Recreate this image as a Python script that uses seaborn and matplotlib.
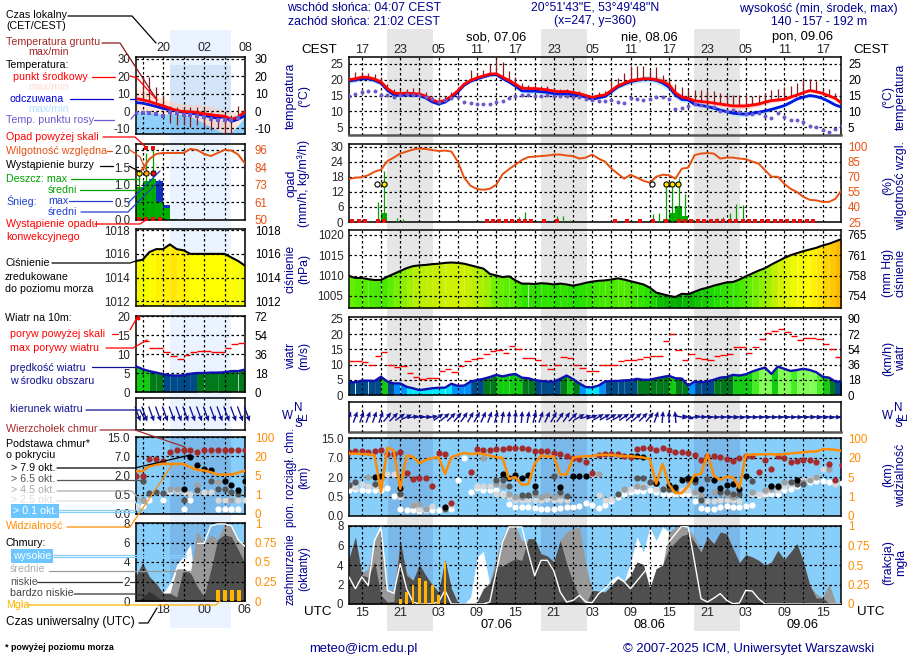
import numpy as np
import matplotlib
matplotlib.use("Agg")
import matplotlib.pyplot as plt
from matplotlib.lines import Line2D
from matplotlib.patches import Rectangle
import seaborn as sns

nan = float("nan")

# ---- main panel data, one value per hour ----
hours = np.arange(78)
top_hours = ["17", "", "23", "", "05", "", "11", "", "17", "", "23", "", "05", "", "11", "", "17", "", "23", "", "05", "", "11", "", "17"]
utc_hours = ["15", "", "21", "", "03", "", "09", "", "15", "", "21", "", "03", "", "09", "", "15", "", "21", "", "03", "", "09", "", "15"]

t_mid = [20.0,20.3,20.8,20.7,20.2,19.3,17.2,15.8,15.6,15.8,15.6,15.5,14.8,13.6,12.9,13.5,14.8,16.5,18.6,19.8,20.6,21.2,21.8,21.9,20.8,19.8,18.6,17.3,17.2,17.2,17.0,16.8,16.4,16.2,16.3,16.0,15.6,15.0,14.4,14.9,
         15.2,16.6,18.1,18.9,19.7,20.0,20.3,20.3,20.0,19.5,18.4,15.8,14.5,14.1,13.3,13.1,12.9,12.6,12.3,12.0,11.7,11.7,11.7,12.0,12.3,12.9,13.4,13.6,13.8,14.5,15.2,15.9,16.6,16.2,15.7,14.9,14.1,12.5]
t_feel = [19.6,19.9,20.4,20.3,19.8,18.9,16.7,15.2,15.0,15.2,15.1,15.0,14.2,13.0,12.3,12.9,14.3,16.1,18.3,19.5,20.3,20.9,21.5,21.6,20.4,19.3,18.0,16.5,16.4,16.4,16.2,16.0,15.6,15.4,15.5,15.3,15.0,14.5,13.8,14.3,
          14.7,16.2,17.7,18.6,19.4,19.8,20.2,20.2,19.8,19.0,17.7,15.2,13.8,13.6,12.2,11.9,11.5,11.0,10.4,9.9,9.4,9.2,9.1,9.4,9.7,10.1,10.6,11.2,11.8,12.8,13.9,14.5,15.0,14.7,14.1,13.1,12.0,11.3]
t_dew = [15,15.4,16,16.5,16.5,15.2,15.1,14.6,15.3,15.4,15.2,15.1,14.6,13.9,13.1,13.6,14.3,14.4,13.0,12.6,12.4,12.3,12.4,12.9,13.4,14.2,15,15.2,15.1,14.8,15,15.2,15,15,14.8,14.4,14.4,14,13.5,13.4,
         13.3,13.6,13.1,12.6,14.3,14,13.7,13.8,14.6,14.6,13.8,10.6,11.2,11.7,12.3,12,11.8,11.5,10.2,10,10.4,9.8,9,9,9.6,8.5,7.8,9.4,8.1,7.2,7.4,6.5,5.3,5,4,3.4,4.3,5.3]
t_ground_max = [21,22.6,22.5,22,21.8,21,18.5,17,17.2,17.2,17.3,17.0,16.0,15,14.5,15,16.2,17.7,19,23,22,23.2,25,26.5,25.5,22.7,21,19,18.2,18.3,18,18,17.5,17.2,17,16.8,16.3,15.5,15,16,
                16.5,20,20.5,22,24.5,24.5,24.5,23,24,21.5,20,18.7,17.7,17,16.9,16.8,16.6,16.3,15.7,15.2,15.2,15.2,15.2,14.7,15.2,15.7,16.6,17,17.7,18.1,19,20,20.2,19.5,17,17,15.9,14.7]
t_spread = [.7,.7,.8,.8,.7,.7,.7,.7,.5,.5,.5,.5,.5,.5,.5,.4,.4,.4,.4,.4,.4,.4,.5,.5,.5,.5,.6,.7,.8,.8,.7,.7,.6,.6,.6,.5,.5,.5,.5,.5,
            .5,.5,.6,.7,.8,.8,.9,.9,1.1,1.2,1.3,1.1,.9,.8,.7,.7,.7,.7,.7,.7,.8,.9,.9,.8,.7,.7,.6,.6,.5,.5,.5,.5,.5,.5,.5,.5,.5,.5]

rain_mean = [0,0,0,0,.5,3.4,0,0,0,0,0,0,0,0,0,0,0,0,0,0,0,0,0,0,0,0,.4,.4,.4,0,0,0,0,0,0,0,0,0,0,0,
             0,0,0,0,0,0,0,0,0,1.2,3.7,6.4,2.4,.9,0,0,0,0,0,0,.3,0,0,0,0,0,0,0,0,0,0,0,0,0,0,0,0,0]
rain_max = [0,0,0,0,8,20.4,0,1.6,1.2,0,0,0,0,0,0,0,0,0,0,0,0,0,0,0,0,0,1.9,4,1.2,0,0,0,2.5,2.5,.8,0,0,0,0,0,
            0,0,0,0,0,0,0,3.2,3.6,16,14,17.3,11.2,1.2,0,0,0,1.6,1.9,3.6,7.2,6.6,0,0,0,0,0,0,0,0,0,0,0,0,0,0,0,0]
conv_hours = [0,1,2,4,5,21,22,23,24,25,26,27,28,30,32,41,43,45,47,49,51,52,53,54,55,56,57,58,59,60,61,62,63,64,65,66,67,68,69,70,71,72]
storm_open = [4.4,47.4]
storm_yellow = [5.5,49.5,50.4,51.4]
rh = [67.8,69,69.5,71.5,75,77,85.5,89,93,95,97,98,97.5,96.5,95.5,96,95,85,69,61,57.8,57,58,62,72.5,77.5,82,86.5,89.5,90,90.5,91,92,92,91,90.5,88,89,92,88,
      85,78,73,68,72,69,66,64,70,72,71.5,68,78,79,91.5,93,93.5,93,88,89,89,88,87.5,85,83,76.5,70,70,63,58,54.8,50,47,46.5,45,45,48,57]

pressure = [1009.9,1009.4,1009.4,1009.1,1008.9,1008.9,1009.7,1010.4,1011.1,1011.8,1012.3,1012.5,1012.6,1012.8,1012.9,1013.1,1013.2,1013.1,1012.9,1012.5,1012.1,1011.7,1010.4,1010,1009.6,1009.8,1008.8,1008,1008,1007.9,1008.1,1008,1007.8,1008,1007.8,1007.5,1007.8,1008.2,1008.5,1008.7,
            1008.8,1009,1009.3,1009,1008.6,1008.2,1007.8,1007,1005.8,1005.4,1005,1004.7,1005.5,1005.4,1006,1006.6,1007,1007.5,1007.9,1008.3,1008.4,1009,1009.8,1010.5,1011.2,1011.8,1012.7,1013.5,1014.3,1015,1015.5,1016,1016.4,1016.8,1017.4,1017.8,1018.4,1019]

wind = [4.2,4.2,4.7,4.7,4.6,6,4.4,3.8,3.8,2.7,2.2,1.6,1.9,2.2,2.4,2.4,3.7,3,3.1,4.4,4.9,5.3,5.9,6.6,6.1,6.6,6.9,5.7,5.5,4.9,4.6,4.4,4.4,5.3,6.4,5.2,3.8,2.6,2.5,3.1,
        4.4,4.6,4.6,4.8,4.9,5.3,5,5,5.5,5.9,6.3,5.5,5.4,3.1,4.4,4.2,4.4,5,5.7,5.9,6.6,6.4,6.8,7.7,8.4,9,6.9,9.3,8.6,7.9,8.2,8.6,8.2,7.5,6,5.7,4.4,4.4]
gust = [11,11,10.7,9.8,12.7,14,10,9.1,9.4,7.1,5.8,5.2,5.5,5.5,8,8.4,7.6,9.4,11,11.7,12,13.4,14.4,14.7,13.8,16,15.1,12,12,11.4,9.8,8.4,10,12.4,12,10,9,7.9,7.9,9.8,
        10,9.8,11,11.4,11.4,11.7,12.4,12.7,12.7,17.7,20,14.7,11.4,13.4,12,11.7,11.4,12.7,13,13.4,15.9,15.9,13.7,15.7,18.3,20.3,20.9,21.6,20.6,19.3,18,18.7,18.7,18.3,16.7,15,12.4]
wind_dir = [20,20,20,20,20,20,40,45,55,65,80,85,85,80,55,50,45,40,35,30,30,25,20,15,10,5,5,5,10,15,20,25,30,35,35,45,60,75,70,60,
            60,60,60,55,50,50,45,40,20,5,0,-5,100,110,80,90,95,95,95,95,100,100,95,95,95,95,95,95,95,95,95,95,95,100,100,100,95,95]

# cloud levels on the panel's own 0-4 scale (ticks 0 / 0.5 / 2 / 7 / 15 km)
cl_top = [3.32,3.35,3.37,3.28,3.37,3.38,3.2,3.2,3.28,2.22,1.91,1.95,1.95,1.57,3.25,3.21,.68,nan,nan,2.26,3.45,3.38,3.38,3.45,3.45,3.5,3.5,3.5,3.45,3.33,3.33,3.33,3.25,3.21,3.11,2.99,2.94,2.8,2.22,3.15,
          3.18,3.18,3.18,3.08,3.03,3.45,3.52,3.5,3.42,3.5,3.38,3.32,3.32,3.25,3.16,2.91,3.08,3.08,3.03,2.94,2.84,2.97,3.11,3.08,2.29,2.89,2.43,3.08,2.99,2.77,2.84,2.89,2.89,2.77,nan,2.67,1.83,2.63]
cl_white = [1.32,1.4,1.35,1.32,1.32,1.32,1.44,1.01,.38,.29,.29,.27,.29,.31,.31,.34,.38,1.86,2.99,1.26,1.44,1.35,1.35,1.35,1.15,.6,.46,.46,.46,.41,.38,.38,.38,.41,.44,.46,.5,.68,.55,.41,
            .55,.75,.97,1.11,1.23,1.28,1.28,1.35,1.23,1.11,1.11,1.11,1.15,1.15,.75,.41,.38,.38,.46,.5,.46,.46,.5,.58,1.06,1.15,1.15,1.15,1.32,1.37,1.57,1.71,1.74,1.78,1.78,1.74,1.69,1.69]
cl_light = [1.57,1.49,1.66,1.57,1.57,1.74,2.17,2.17,.97,nan,.55,.38,.38,.51,nan,.46,.55,nan,nan,nan,1.57,1.57,1.57,1.15,1.06,.97,.8,.8,.8,.85,.8,.89,.8,.8,.8,nan,nan,nan,2.17,1.06,
            .8,.89,1.15,1.32,1.4,1.54,1.54,1.66,1.4,1.4,1.32,1.32,1.32,1.32,1.15,.8,.75,.75,.8,.8,.8,.75,nan,1.15,1.15,1.23,1.32,1.32,1.57,1.66,1.74,1.83,1.91,2.0,2.43,nan,1.66,nan]
cl_grey = [1.66,nan,nan,2.0,nan,1.91,nan,nan,1.23,nan,.58,.63,.38,nan,nan,nan,nan,nan,nan,nan,nan,2.97,nan,1.66,1.57,1.15,.97,.97,1.06,1.15,.97,1.06,.97,1.06,nan,nan,nan,nan,nan,2.17,
           nan,nan,nan,1.4,nan,1.57,1.49,1.74,1.74,1.4,1.4,1.49,nan,nan,1.23,1.06,nan,1.23,nan,1.06,.97,1.15,nan,1.23,nan,1.32,1.4,nan,1.74,nan,1.78,1.74,1.83,2.03,nan,2.43,nan,nan]
cl_dark = [1.6,1.74,nan,nan,1.66,nan,nan,nan,1.15,nan,nan,nan,nan,nan,nan,.34,nan,nan,nan,nan,nan,nan,nan,1.88,1.83,1.57,nan,1.06,1.09,1.23,nan,nan,2.05,1.23,1.03,nan,nan,nan,nan,nan,
           nan,nan,1.15,nan,nan,1.97,1.97,1.74,1.7,1.4,1.4,1.32,nan,1.83,1.74,.8,1.92,nan,1.23,1.23,1.15,1.15,nan,1.78,nan,nan,1.57,1.49,nan,1.74,1.66,1.66,nan,nan,nan,nan,nan,nan]
cl_black = [nan,nan,nan,nan,2.0,2.08,nan,nan,1.44,nan,nan,nan,nan,nan,nan,.46,nan,nan,nan,nan,nan,nan,nan,nan,2.14,1.97,2.12,1.95,2.12,1.57,nan,nan,nan,1.49,nan,2.08,2.08,2.08,nan,nan,
            nan,nan,nan,nan,3.08,3.11,3.06,nan,1.71,nan,1.61,1.52,1.87,1.97,1.92,1.37,nan,1.87,1.46,1.61,1.66,1.37,2.08,nan,nan,nan,1.57,1.57,nan,nan,1.87,nan,nan,nan,nan,nan,nan,nan]
visibility = [3.21,3.21,3.19,3.19,3.11,1.23,3.52,3.37,1.4,3.11,3.06,2.72,2.89,2.99,3.03,2.17,3.03,3.15,3.25,3.19,3.23,3.19,3.11,3.03,2.99,1.91,2.0,1.61,1.64,2.68,3.11,3.06,3.08,2.14,2.14,3.0,3.06,3.08,3.09,3.15,
              3.15,3.15,3.11,3.08,3.08,3.05,3.01,2.94,1.66,2.68,1.62,1.18,1.18,1.54,2.12,2.17,3.2,2.09,1.86,2.03,2.0,1.44,3.15,3.16,3.18,3.18,3.19,3.16,3.19,3.23,3.25,3.28,3.32,3.32,3.44,3.44,3.41,3.35]

cc_low = [4.65,6.87,2.94,2.77,4.31,.89,.2,.27,6.53,2.94,2.43,4.03,2.94,1.98,1.23,4.55,1.57,.14,.03,.03,.2,1.57,2.09,3.9,3.9,4.31,4.65,4.48,6.7,6.7,5.16,4.92,4.31,6.53,4.14,2.26,.72,.03,1.4,1.33,
          1.23,1.9,2.6,2.26,2.94,4.31,4.03,1.57,3.62,3.97,5.68,6.36,7,7.2,6.36,5.33,6.87,6.19,7.38,7.2,5.68,4.24,5.06,4.82,4.48,3.97,4.31,5.5,4.55,5.33,6.19,4.31,1.91,.62,.62,.1,.03,.03]
cc_mid = [4.7,6.9,3.2,3.6,6.7,7.7,1.2,1.6,6.53,3.3,2.43,4.03,2.94,1.98,1.23,4.55,1.57,.14,.03,.03,.2,1.57,2.26,4.65,6.9,8,8,6.5,6.5,6.7,5.16,4.92,4.31,6.53,7.4,7.7,7.9,4,1.4,1.33,
          1.23,1.9,2.6,2.26,2.94,4.31,4.03,1.57,3.62,3.97,7.4,7.9,8,7.7,6.9,5.5,6.87,6.19,7.38,7.2,5.68,4.24,5.06,4.82,4.48,3.97,4.31,5.5,4.55,5.33,6.19,4.31,1.91,1.06,.62,2.09,.2,.03]
cc_high = [0,0,0,0,0,0,0,0,0,0,0,0,0,0,0,0,0,0,0,.7,4.8,5.4,2,0,0,0,0,0,0,0,0,0,0,0,0,0,0,0,0,0,
           0,2.3,2.8,2.3,4.3,6.9,5.3,7.9,6.5,7.9,7.4,0,0,0,0,0,0,0,0,0,0,0,0,0,0,0,0,0,0,0,0,0,0,0,0,0,0,0]
cc_vlow = [0,0,0,0,0,0,0,0,0,0,0,0,0,0,0,0,0,0,0,0,0,0,0,0,0,0,0,0,0,0,0,0,.1,.3,.35,.4,.2,0,0,0,
           0,0,0,0,0,0,0,0,0,0,0,0,0,0,0,0,0,0,0,0,0,0,0,0,0,0,0,0,0,0,0,0,0,0,0,0,0,0]
cc_line = [2.77,1.57,2.77,1.9,6.5,7.9,1.4,1.1,4.14,1.57,.2,0,0,.03,.2,1.4,0,0,0,0,0,0,.2,3.3,6.36,7.9,7.9,7.9,5.3,2.9,4.48,4.48,3.4,1.23,.2,.37,.89,.2,.14,1.05,
           1.57,2.26,2.77,2.26,1.57,nan,nan,nan,nan,nan,nan,nan,8,7.9,4.3,.55,.2,.6,1.06,.38,.03,.1,1.4,1.33,.55,0,0,0,0,0,0,0,0,0,0,0,0,0]
fog_hours = [8,9,10,11,12,13,14,15]
fog = [.07,.15,.24,.33,.3,.24,.11,.54]

# ---- left (legend) panel data ----
left_hours = np.arange(17)
lt_mid = [7.2,6.4,5.5,4.1,3,1.6,.3,-.3,-.5,-.8,-1.6,-2.2,-2.6,-3,-4.7,-3.5,-.3]
lt_feel = [4.9,4.5,3.6,2.6,1.5,.7,.1,-.8,-1.2,-1.8,-2.4,-3.5,-4.1,-3.1,-6,-4.7,-2.6]
lt_top = [13.1,11.8,10.3,8.7,7,6,4.5,4.1,3.6,3.6,3.6,3,1.6,.7,-.3,-1.2,1.6]
lt_low = [-.3,-.3,-.8,-1.2,-2.2,-1.2,-1.6,-2.2,-3,-5,-7,-9,-11.2,-12.7,-11.7,-8,-3]
lt_dew = [-1.2,-1.2,-1.3,-1.8,-2.6,-.8,-1.2,-2.2,-2.2,-3.1,-3.7,-4.7,-5.4,-5,-5,-4.1,nan]
lt_gmax = [nan,19.5,19.5,14,9,3,2.5,2.5,2.5,2.5,1,-.3,-1.5,-1.5,-2.5,3,nan]
lt_gmin = [nan,6,5,4,2,-7,-8,-8,-9,-8,-9,-11,-10,-13,-13,-4,nan]
l_rain = [.93,1.1,1.17,.52,.35,.03,0,0,0,0,0,0,0,0,0,0]
l_snow = [0,0,0,1.1,.42,0,0,0,0,0,0,0,0,0,0,0]
l_rain_max_hours = [.5,1.5,2.6]
l_rain_max = [1.43,1.9,2.0]
l_storm_colors = ["#ffe800", "#ffa500", "#e81010"]
l_rh = [79.6,83.3,90,93.4,94,94,94,94,96.7,96,93.4,92,94,96,95.6,93,87]
l_pressure = [1015.4,1015.5,1016.15,1016.4,1016.4,1016.8,1016.4,1016.3,1016,1016,1016,1016,1016,1016,1015.7,1015.4,1015]
l_wind = [6.8,6,5.5,5.1,4.7,4.4,4.3,4.4,4.8,5,5,5.1,5.1,5.2,5.5,5.5,5.9]
l_gust = [nan,13.5,11.6,11.6,10.6,9.6,8.7,9.8,10.4,10.9,10.9,10.6,10.6,11.6,12.6,12.9]
l_dir = [160]*17
l_top = [2,2,2.85,2.85,2.77,3.2,3.32,3.32,3.32,3.2,3.32,3.32,3.32,3.32,3.32,3.32,3.32]
l_black = [nan,nan,nan,nan,nan,nan,nan,1.28,2.97,2.55,2.34,2.26,nan,1.69,1.49,1.26,1.69]
l_dark = [nan,1.69,1.11,1.15,1.11,nan,nan,.72,nan,1.26,nan,1.69,1.28,1.28,1.15,1.03,nan]
l_grey = [nan,.72,nan,nan,nan,1.28,1.28,nan,nan,1.49,nan,nan,1.66,nan,.72,nan,1.66]
l_light = [.38,nan,nan,nan,nan,1.23,1.18,1.15,1.06,1.2,1.15,1.15,.72,.72,.72,.72,.72]
l_white = [.41,.44,.72,nan,.75,1.2,nan,.24,.72,nan,nan,nan,.24,.24,.24,.24,nan]
l_vis = [2.22,2.22,2.48,2.56,2.6,2.6,2.6,2.6,2.43,2.29,2.26,2.17,2.05,2.05,2.05,2.14,2.26]
l_cc_low = [2.5,3.9,2.5,1.8,.8,.8,.4,3.3,2.9,1.5,.45,3.2,6.3,6.8,6.6,5.26,3.9]
l_cc_mid = [2.5,3.9,2.5,1.8,.8,.8,3.3,3.3,2.9,7.15,5.9,6.8,6.3,7.9,7.7,6.3,5.6]
l_cc_high = [0,0,0,0,.8,1.8,3.7,4.6,5.8,0,0,0,0,0,0,0,0]
l_cc_vlow = [0,.4,1,.5,0,0,0,0,0,0,0,0,0,0,0,0,0]
l_cc_line = [nan,nan,nan,nan,nan,nan,nan,nan,nan,5.9,5.9,7.7,7.9,7.9,7.7,6.3,5.6]
l_fog_hours = [12.1,13.1,14.1,15.1]
l_fog = [.14,.14,.14,.14]

# tick labels
cloud_left = ["0.0", "0.5", "2.0", "7.0", "15.0"]
cloud_right = ["0", "1", "5", "20", "100"]
frac_right = ["0", "0.25", "0.5", "0.75", "1"]

sns.set_style("white")
plt.rcParams["font.family"] = ["Liberation Sans", "DejaVu Sans"]
plt.rcParams["font.size"] = 8.8

W, H = 910, 660
fig = plt.figure(figsize=(W / 100, H / 100), dpi=100, facecolor="white")

NAVY = "#000090"
ORANGE = "#ff8c00"
RHC = "#e85010"
DBLUE = "#101090"
RED = "#ff0000"
BROWN = "#a52a2a"
TICK = 8.3
LEG = 7.7

pressure_cmap = sns.blend_palette(["#00a800", "#22e000", "#66f000", "#ccf000", "#ffff00", "#ffd000", "#ff9800"], as_cmap=True)
pressure_stops = [1004.5, 1007.5, 1010, 1013, 1016, 1017.5, 1019.5]


def rect_px(x0, y0, x1, y1, **kw):
    fig.add_artist(Rectangle((x0 / W, 1 - y1 / H), (x1 - x0) / W, (y1 - y0) / H,
                             transform=fig.transFigure, lw=0, zorder=-5, **kw))


def txt(x, y, s, color="black", ha="left", **kw):
    fig.text(x / W, 1 - y / H, s, color=color, ha=ha, va="center", **kw)


def lead(points, color, lw=0.9):
    xs = [p[0] / W for p in points]
    ys = [1 - p[1] / H for p in points]
    fig.add_artist(Line2D(xs, ys, color=color, lw=lw, transform=fig.transFigure))


def panel(x0, y0, x1, y1, xlim, xticks, ylim, yticks, ylabels, rlabels, rcolor="black", rpad=5, lpad=4):
    ax = fig.add_axes([x0 / W, 1 - y1 / H, (x1 - x0) / W, (y1 - y0) / H])
    ax.patch.set_alpha(0)
    ax.set_xlim(xlim)
    ax.set_ylim(ylim)
    ax.set_xticks(xticks)
    ax.set_yticks(yticks, labels=ylabels)
    ax.set_xticklabels([])
    ax.tick_params(length=0, labelsize=TICK, pad=lpad)
    ax.grid(True, color="black", ls=(0, (2, 2)), lw=0.9)
    ax.set_axisbelow(False)
    for s in ax.spines.values():
        s.set_linewidth(1.1)
        s.set_color("black")
        s.set_visible(True)
    tw = ax.twinx()
    tw.patch.set_alpha(0)
    tw.set_ylim(ylim)
    tw.set_yticks(yticks, labels=rlabels)
    tw.tick_params(length=0, labelsize=TICK, pad=rpad, labelcolor=rcolor)
    tw.grid(False)
    for s in tw.spines.values():
        s.set_visible(False)
    return ax


def line(ax, x, y, color, lw=1.8, z=4):
    sns.lineplot(x=x, y=y, ax=ax, color=color, linewidth=lw, zorder=z, legend=False, errorbar=None)


def dots(ax, x, y, color, s=20, z=5, marker="o", **kw):
    sns.scatterplot(x=x, y=y, ax=ax, color=color, s=s, linewidth=0, zorder=z, legend=False, marker=marker, **kw)


def wind_color(v):
    bands = [2.8, 4.1, 5, 6, 7.5, 8]
    cols = ["#00e8ff", "#0090ff", "#004a8a", "#007a1a", "#11cc11", "#44ee22", "#80ff55"]
    return cols[int(np.digitize(v, bands))]


def column_fill(ax, x, y, base, colorfunc):
    for k in range(len(x) - 1):
        ax.fill_between(x[k:k + 2], y[k:k + 2], base, color=colorfunc(y[k]), lw=0, zorder=1, antialiased=False)


def press_color(p):
    return pressure_cmap(float(np.interp(p, pressure_stops, np.linspace(0, 1, 7))))


def level_dots(ax, x, top, black, dark, grey, light, white, s=20):
    dots(ax, x, white, "white", s=s, z=5)
    dots(ax, x, light, "#d8d8d8", s=s, z=5.1)
    dots(ax, x, grey, "#a0a0a0", s=s, z=5.2)
    dots(ax, x, dark, "#555555", s=s, z=5.3)
    dots(ax, x, black, "black", s=s, z=5.4)
    dots(ax, x, top, BROWN, s=s, z=5.5)


def cloud_fill(ax, x, high, mid, low, vlow):
    ax.fill_between(x, high, 0, color="white", lw=0, zorder=1)
    ax.fill_between(x, mid, 0, color="#999999", lw=0, zorder=1.1)
    ax.fill_between(x, low, 0, color="#4f4f4f", lw=0, zorder=1.2)
    ax.fill_between(x, vlow, 0, color="#333333", lw=0, zorder=1.3)


# background day / night bands
rect_px(170, 30, 231, 628, color="#eaf3ff")
for a, b in [(387, 433), (541, 587), (694, 740)]:
    rect_px(a, 29, b, 631, color="#e6e6e6")

main_x = (0, 76.875)
main_ticks = list(range(2, 77, 3))
left_x = (0, 16)
left_ticks = [1, 4, 7, 10, 13, 16]

# ---- main panels ----
ax_t = panel(349, 57, 841, 135, main_x, main_ticks, (2.5, 27.2), [5, 10, 15, 20, 25], ["5", "10", "15", "20", "25"], ["5", "10", "15", "20", "25"])
ax_t.fill_between(hours, np.array(t_mid) - np.array(t_spread), np.array(t_mid) + np.array(t_spread), color="#ffc8c8", lw=0, zorder=1)
ax_t.fill_between(hours, np.array(t_feel) - np.array(t_spread), np.array(t_feel) + np.array(t_spread), color="#bfe8ff", lw=0, zorder=1)
ax_t.vlines(hours, t_mid, t_ground_max, color="#8b1a1a", lw=0.9, zorder=3)
dots(ax_t, hours, t_dew, "#6a5acd", s=8)
line(ax_t, hours, t_feel, "#0018e0", lw=2.0, z=4)
line(ax_t, hours, t_mid, "#ff0000", lw=2.0, z=4.5)
ax_t.spines["bottom"].set_color("#555555")
ax_t.spines["bottom"].set_linewidth(1.8)

ax_r = panel(349, 144, 841, 222, main_x, main_ticks, (0, 31), [0, 6, 12, 18, 24, 30], ["0", "6", "12", "18", "24", "30"],
             ["25", "40", "55", "70", "85", "100"], rcolor=RHC)
ax_r.bar(hours + .5, rain_mean, width=1.0, color="#00b000", lw=0, zorder=1)
ax_r.vlines(hours + .5, 0, rain_max, color="#00a000", lw=0.9, zorder=3)
line(ax_r, hours, (np.array(rh) - 25) / 2.5, RHC, lw=1.4)
dots(ax_r, np.array(conv_hours) + .5, [.3] * len(conv_hours), "#e81010", s=7, marker="s")
sns.scatterplot(x=storm_open, y=[15, 15], ax=ax_r, color="white", edgecolor="black", s=14, linewidth=.8, zorder=6, legend=False)
sns.scatterplot(x=storm_yellow, y=[15] * 4, ax=ax_r, color="#ffe800", edgecolor="black", s=14, linewidth=.8, zorder=6, legend=False)

ax_p = panel(349, 230, 841, 308, main_x, main_ticks, (1002, 1021.2), [1005, 1010, 1015, 1020], ["1005", "1010", "1015", "1020"], ["754", "758", "761", "765"])
column_fill(ax_p, hours, np.array(pressure), 1002, press_color)
line(ax_p, hours, pressure, "black", lw=1.5)

ax_w = panel(349, 317, 841, 395, main_x, main_ticks, (0, 25.6), [0, 5, 10, 15, 20, 25], ["0", "5", "10", "15", "20", "25"], ["0", "18", "36", "54", "72", "90"])
column_fill(ax_w, hours, np.array(wind), 0, wind_color)
line(ax_w, hours, wind, "#1010b0", lw=1.7)
ax_w.hlines(gust, hours[:len(gust)], hours[:len(gust)] + 1, color=RED, lw=1.0, zorder=4)

ax_d = panel(349, 402, 841, 432, main_x, main_ticks, (-1, 1), [], [], [])
rad = np.deg2rad(wind_dir)
ax_d.quiver(hours, np.zeros(78), np.sin(rad) * .12, np.cos(rad) * .12, angles="uv", scale_units="inches", scale=1,
            units="inches", width=.014, headwidth=3.6, headlength=4, headaxislength=3.6, pivot="mid", color=DBLUE, zorder=4)
ax_d.spines["bottom"].set_color("#555555")
ax_d.spines["bottom"].set_linewidth(1.8)

ax_c = panel(349, 438, 841, 516, main_x, main_ticks, (0, 4.02), [0, 1, 2, 3, 4], cloud_left, cloud_right, rcolor=ORANGE)
ax_c.patch.set_alpha(1)
ax_c.set_facecolor("#87cefa")
level_dots(ax_c, hours, cl_top, cl_black, cl_dark, cl_grey, cl_light, cl_white)
line(ax_c, hours, visibility, ORANGE, lw=1.8, z=6)

ax_f = panel(349, 526, 841, 604, main_x, main_ticks, (0, 8), [0, 2, 4, 6, 8], ["0", "2", "4", "6", "8"], frac_right, rcolor=ORANGE)
ax_f.patch.set_alpha(1)
ax_f.set_facecolor("#87cefa")
cloud_fill(ax_f, hours, cc_high, cc_mid, cc_low, cc_vlow)
line(ax_f, hours, cc_line, "white", lw=1.0, z=3)
ax_f.bar(fog_hours, np.array(fog) * 8, width=.42, color="#ffb400", lw=0, zorder=4)

for ax in (ax_c, ax_f):
    for h0, h1 in [(6.05, 13.15), (30.05, 37.15), (53.95, 61.15)]:
        ax.axvspan(h0, h1, color="#7ab8ea", lw=0, zorder=0.5)

ax_t.set_xticks(main_ticks, labels=top_hours)
ax_t.xaxis.tick_top()
ax_t.tick_params(axis="x", pad=1, labelsize=9)
ax_f.set_xticks(main_ticks, labels=utc_hours)
ax_f.tick_params(axis="x", pad=2, labelsize=9)

# ---- left panels ----
ax_lt = panel(135.7, 57, 245, 134, left_x, left_ticks, (-13.2, 31), [-10, 0, 10, 20, 30], ["-10", "0", "10", "20", "30"], ["-10", "0", "10", "20", "30"], rpad=7)
ax_lt.fill_between(left_hours, -13.2, lt_low, color="#8fd0fa", lw=0, zorder=1)
ax_lt.fill_between(left_hours, lt_low, lt_top, color="#ffe6da", lw=0, zorder=.9)
ax_lt.axvspan(5, 13.9, ymax=.9, color="#3a78c8", alpha=.12, lw=0, zorder=1.5)
ax_lt.vlines(left_hours, lt_gmin, lt_gmax, color="#8b1a1a", lw=0.9, zorder=3)
dots(ax_lt, left_hours, lt_dew, "#6a5acd", s=9, marker="s")
line(ax_lt, left_hours, lt_feel, "#0018e0", lw=2.0)
line(ax_lt, left_hours, lt_mid, RED, lw=2.0, z=4.5)

ax_lr = panel(135.7, 144, 245, 220, left_x, left_ticks, (0, 2.17), [0, .5, 1, 1.5, 2], ["0.0", "0.5", "1.0", "1.5", "2.0"], ["50", "61", "73", "84", "96"], rcolor=RHC, rpad=7)
ax_lr.bar(left_hours[:16] + .5, l_snow, width=1.0, color="#1030c0", lw=0, zorder=1)
ax_lr.bar(left_hours[:16] + .5, l_rain, width=1.0, color="#00b000", lw=0, zorder=1.1)
ax_lr.vlines(l_rain_max_hours, 0, l_rain_max, color="#00a000", lw=0.9, zorder=3)
line(ax_lr, left_hours, (np.array(l_rh) - 50) / 23.0, RHC, lw=1.4)
for hx, col in zip(l_rain_max_hours, l_storm_colors):
    ax_lr.plot([hx], [1.33], "o", ms=3.8, mfc=col, mec="black", mew=.7, zorder=6)
dots(ax_lr, l_rain_max_hours[1:], [2.07, 2.07], "#e81010", s=8, marker="s")
dots(ax_lr, [.5, 1.5, 2.5, 3.5], [.02] * 4, "#e81010", s=6, marker="s")

ax_lp = panel(135.7, 229, 245, 306, left_x, left_ticks, (1011.6, 1018.1), [1012, 1014, 1016, 1018], ["1012", "1014", "1016", "1018"], ["1012", "1014", "1016", "1018"], rpad=7)
column_fill(ax_lp, left_hours, np.array(l_pressure), 1011.6, press_color)
line(ax_lp, left_hours, l_pressure, "black", lw=1.5)

ax_lw = panel(135.7, 316, 245, 392, left_x, left_ticks, (0, 20), [0, 5, 10, 15, 20], ["0", "5", "10", "15", "20"], ["0", "18", "36", "54", "72"], rpad=7)
column_fill(ax_lw, left_hours, np.array(l_wind), 0, wind_color)
line(ax_lw, left_hours, l_wind, "#1010b0", lw=1.7)
ax_lw.hlines(l_gust, left_hours[:16], left_hours[:16] + 1, color=RED, lw=1.0, zorder=4)
dots(ax_lw, [.4], [19.5], RED, s=8)

ax_ld = panel(135.7, 398, 245, 430, left_x, left_ticks, (-1, 1), [], [], [])
rad_l = np.deg2rad(l_dir)
ax_ld.quiver(left_hours + .3, np.zeros(17), np.sin(rad_l) * .16, np.cos(rad_l) * .16, angles="uv", scale_units="inches", scale=1,
             units="inches", width=.013, headwidth=4, headlength=4.5, headaxislength=4, pivot="mid", color=DBLUE, zorder=4, clip_on=False)

ax_lc = panel(135.7, 437, 245, 514, left_x, left_ticks, (0, 4.0), [0, 1, 2, 3, 4], cloud_left, cloud_right, rcolor=ORANGE, rpad=7)
ax_lc.patch.set_alpha(1)
ax_lc.set_facecolor("#87cefa")
level_dots(ax_lc, left_hours, l_top, l_black, l_dark, l_grey, l_light, l_white)
line(ax_lc, left_hours, l_vis, ORANGE, lw=1.8, z=6)

ax_lf = panel(135.7, 523, 245, 601, left_x, left_ticks, (0, 8), [0, 2, 4, 6, 8], ["0", "2", "4", "6", "8"], frac_right, rcolor=ORANGE, rpad=7)
ax_lf.patch.set_alpha(1)
ax_lf.set_facecolor("#87cefa")
cloud_fill(ax_lf, left_hours, l_cc_high, l_cc_mid, l_cc_low, l_cc_vlow)
line(ax_lf, left_hours, l_cc_line, "white", lw=1.0, z=3)
ax_lf.bar(l_fog_hours, np.array(l_fog) * 8, width=.55, color="#ffb400", lw=0, zorder=4)

for ax in (ax_lc, ax_lf):
    ax.axvspan(5, 13.9, color="#7ab8ea", lw=0, zorder=0.5)

ax_lt.set_xticks(left_ticks, labels=["", "20", "", "02", "", "08"])
ax_lt.xaxis.tick_top()
ax_lt.tick_params(axis="x", pad=2, labelsize=9)
ax_lf.set_xticks(left_ticks, labels=["", "18", "", "00", "", "06"])
ax_lf.tick_params(axis="x", pad=2, labelsize=9)

# ---- header and footer ----
txt(287, 8, "wschód słońca: 04:07 CEST", NAVY)
txt(288, 22, "zachód słońca: 21:02 CEST", NAVY)
txt(595, 8, "20°51'43\"E, 53°49'48\"N", NAVY, ha="center")
txt(595, 21, "(x=247, y=360)", NAVY, ha="center")
txt(818, 9, "wysokość (min, środek, max)", NAVY, ha="center")
txt(819, 22, "140 - 157 - 192 m", NAVY, ha="center")
txt(309, 649, "meteo@icm.edu.pl", NAVY, fontsize=9.4)
txt(623, 649, "© 2007-2025 ICM, Uniwersytet Warszawski", NAVY, fontsize=9.4)
for x, s in [(496, "sob, 07.06"), (649, "nie, 08.06"), (802, "pon, 09.06")]:
    txt(x, 37, s, ha="center", fontsize=9.3)
for x, s in [(496, "07.06"), (649, "08.06"), (802, "09.06")]:
    txt(x, 625, s, ha="center", fontsize=9.2)
txt(319, 50, "CEST", ha="center", fontsize=9.6)
txt(871, 50, "CEST", ha="center", fontsize=9.6)
txt(318, 612, "UTC", ha="center", fontsize=9.6)
txt(871, 612, "UTC", ha="center", fontsize=9.6)

# ---- rotated unit labels ----
left_units = [(96, "temperatura", "(°C)", 8.8), (183, "opad", "(mm/h, kg/m³/h)", 8.8), (269, "ciśnienie", "(hPa)", 8.8),
              (356, "wiatr", "(m/s)", 8.8), (477, "pion. rozciągł. chm.", "(km)", 8.3), (569, "zachmurzenie", "(oktanty)", 8.3)]
for y, a, b, fs in left_units:
    txt(291, y, a, NAVY, ha="center", rotation=90, fontsize=fs)
    txt(304, y, b, NAVY, ha="center", rotation=90, fontsize=fs)
right_units = [(97, "(°C)", "temperatura"), (185, "(%)", "wilgotność wzgl."), (273, "(mm Hg)", "ciśnienie"),
               (358, "(km/h)", "wiatr"), (475, "(km)", "widzialność"), (563, "(frakcja)", "mgła")]
for y, a, b in right_units:
    txt(888, y, a, NAVY, ha="center", rotation=90)
    txt(901, y, b, NAVY, ha="center", rotation=90)
for cx in (297, 897):
    txt(cx - 10, 416, "W", NAVY, ha="center", fontsize=8.4)
    txt(cx + 1, 408, "N", NAVY, ha="center", fontsize=8.4)
    txt(cx + 1, 424, "S", NAVY, ha="center", fontsize=8.4)
    txt(cx + 7, 416, "E", NAVY, ha="center", rotation=90, fontsize=8.4)

# ---- legend column ----
legend_rows = [
    (6, 15, "Czas lokalny", "black"), (6, 26, "(CET/CEST)", "black"),
    (6, 42, "Temperatura gruntu", BROWN), (28, 52, "max/min", BROWN),
    (6, 65, "Temperatura:", "black"), (13, 77, "punkt środkowy", RED),
    (28, 87, "max/min", "#ffdcd0"), (10, 99, "odczuwana", "#0000e0"),
    (28, 109, "max/min", "#b0e0ff"), (6, 120, "Temp. punktu rosy", "#6a5acd"),
    (6, 137, "Opad powyżej skali", RED), (6, 151, "Wilgotność względna", RHC),
    (6, 165, "Wystąpienie burzy", "black"), (6, 179, "Deszcz: max", "#00a000"),
    (48, 190, "średni", "#00a000"), (6, 201, "Śnieg:", "#2040d0"),
    (48, 201, "max", "#2040d0"), (48, 212, "średni", "#2040d0"),
    (6, 224, "Wystąpienie opadu", RED), (6, 237, "konwekcyjnego", RED),
    (5, 263, "Ciśnienie", "black"), (5, 277, "zredukowane", "black"),
    (5, 289, "do poziomu morza", "black"), (5, 318, "Wiatr na 10m:", "black"),
    (10, 334, "poryw powyżej skali", RED), (10, 348, "max porywy wiatru", RED),
    (10, 368, "prędkość wiatru", DBLUE), (10, 381, "w środku obszaru", DBLUE),
    (10, 409, "kierunek wiatru", DBLUE), (6, 429, "Wierzchołek chmur", BROWN),
    (6, 444, "Podstawa chmur*", "black"), (6, 455, "o pokryciu", "black"),
    (11, 468, "> 7.9 okt.", "black"), (11, 479, "> 6.5 okt.", "#505050"),
    (11, 490, "> 4.5 okt.", "#aaaaaa"), (11, 500, "> 2.5 okt.", "#dddddd"),
    (6, 526, "Widzialność", ORANGE), (6, 543, "Chmury:", "black"),
    (10, 569, "średnie", "#aaaaaa"), (10, 582, "niskie", "#505050"),
    (10, 593, "bardzo niskie", "#404040"), (6, 605, "Mgła", "#ffb400"),
]
for x, y, s, c in legend_rows:
    txt(x, y, s, c, fontsize=LEG)
txt(6, 622, "Czas uniwersalny (UTC)", fontsize=8.6)
for x, y, s in [(13, 511, "> 0.1 okt."), (13, 556, "wysokie")]:
    txt(x, y, s, "white", fontsize=LEG, bbox=dict(facecolor="#6ec6ff", edgecolor="none", pad=1.2))
txt(5, 648, "* powyżej poziomu morza", "black", fontsize=6.4, fontweight="bold")

leaders = [
    ([(68, 16), (132, 16), (156, 43)], "black"),
    ([(102, 43), (120, 43), (157, 100)], "#8b1a1a"),
    ([(92, 77), (115, 77)], RED), ([(130, 76), (137, 78), (157, 100)], RED),
    ([(70, 99), (113, 99)], "#0000e0"), ([(130, 99), (136, 99)], "#0000e0"),
    ([(94, 120), (114, 120)], "#6a5acd"), ([(131, 119), (136, 113)], "#6a5acd"),
    ([(103, 137), (135, 137), (146, 147)], RED),
    ([(107, 151), (112, 151)], RHC), ([(130, 150), (140, 157), (146, 170)], RHC),
    ([(100, 166), (113, 166)], "black"), ([(129, 166), (140, 172)], "black"),
    ([(71, 179), (139, 179)], "#00a000"), ([(80, 190), (143, 190)], "#00a000"),
    ([(69, 201), (112, 201)], "#2040d0"), ([(128, 203), (160, 171)], "#2040d0"),
    ([(81, 212), (128, 212), (160, 180)], "#2040d0"),
    ([(95, 224), (140, 224), (146, 220)], RED),
    ([(52, 263), (130, 263), (136, 261)], "black"),
    ([(112, 334), (118, 334)], RED), ([(130, 330), (138, 316)], RED),
    ([(106, 348), (133, 348), (147, 340)], RED),
    ([(92, 367), (135, 367)], DBLUE),
    ([(86, 410), (140, 410), (145, 420)], DBLUE),
    ([(100, 430), (135, 430), (185, 447)], BROWN),
    ([(57, 468), (135, 468), (190, 455)], "black"),
    ([(57, 480), (143, 480)], "#555555"),
    ([(57, 491), (132, 491), (140, 500)], "#aaaaaa"),
    ([(57, 501), (135, 501), (137, 505)], "#dddddd"),
    ([(57, 510), (135, 510)], "#87cefa"), ([(57, 512), (135, 512)], "#87cefa"),
    ([(67, 527), (130, 527), (172, 465)], ORANGE),
    ([(53, 555), (186, 555)], "#87cefa"), ([(53, 557), (186, 557)], "#87cefa"),
    ([(49, 571), (192, 571)], "#999999"),
    ([(37, 582), (122, 582)], "#333333"), ([(130, 582), (135, 582)], "#333333"),
    ([(74, 594), (135, 594), (148, 597)], "#333333"),
    ([(27, 605), (216, 605), (220, 601)], "#ffb400"),
    ([(139, 623), (148, 623), (157, 608)], "black"),
]
for pts, c in leaders:
    lead(pts, c)

fig.savefig("out.png", dpi=100)
